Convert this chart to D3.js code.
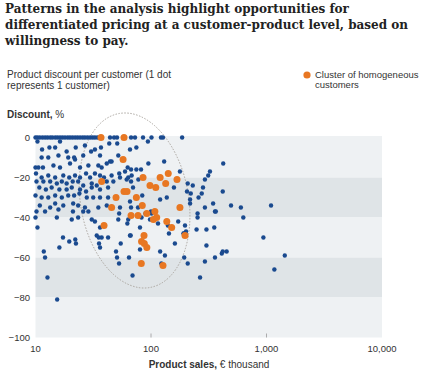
<!DOCTYPE html>
<html>
<head>
<meta charset="utf-8">
<script src="https://cdn.jsdelivr.net/npm/d3@7"></script>
<style>
  body { margin: 0; background: #fff; }
  text { font-family: "Liberation Sans", Arial, sans-serif; fill: #333; }
  .title { font-family: "DejaVu Serif", Georgia, serif; font-weight: bold; fill: #222; }
</style>
</head>
<body>
<div id="chart"></div>
<script>
// title lines
var titleLines = [
  "Patterns in the analysis highlight opportunities for",
  "differentiated pricing at a customer-product level, based on",
  "willingness to pay."
];
var subtitleLines = ["Product discount per customer (1 dot", "represents 1 customer)"];
var legendLines = ["Cluster of homogeneous", "customers"];

var xTicks = [10, 100, 1000, 10000];
var yTicks = [0, -20, -40, -60, -80, -100];
var bands = [[0, -20], [-20, -40], [-40, -60], [-60, -80], [-80, -100]];

// blue dots: [product sales (€ thousand), discount %]
var customers = [
  // dense row at 0 %
  [10, 0], [10.4, 0], [10.9, 0], [11.5, 0], [12.1, 0], [12.7, 0], [13.4, 0], [14, 0], [14.8, 0],
  [15.5, 0], [16.3, 0], [17.1, 0], [18, 0], [19, 0], [19.9, 0], [20.9, 0], [22, 0], [23.1, 0],
  [24.3, 0], [25.6, 0], [26.8, 0], [28.2, 0], [29.7, 0], [31.2, 0], [32.7, 0], [34.4, 0],
  [44.2, 0], [47.9, 0], [50.8, 0], [67.2, 0], [72.7, 0], [85.3, 0], [101, 0], [122, 0], [127, 0], [186, 0],
  [94, -2], [10.4, -2], [16.3, -2],
  [11.4, -6], [13.2, -5], [14.8, -5], [18.6, -7], [22.3, -5], [26.8, -4], [32.7, -6], [36.9, -5], [43.5, -3], [51, -3],
  [11.3, -10], [12.9, -10], [15.8, -9], [19.2, -10], [21.6, -10], [25.9, -9], [30.3, -7], [36.2, -9], [44.2, -12], [52.1, -9],
  [10, -15], [10.6, -15], [11.6, -15], [14.3, -14], [16.3, -15], [19.9, -13], [22, -11], [24.3, -15], [28.7, -14],
  [35, -14], [37.4, -15], [41.4, -13], [45.6, -12],
  [10.1, -18], [11.3, -20], [12.9, -19], [14.8, -20], [17.4, -19], [19.6, -20], [22, -19], [24.3, -20], [27.4, -18],
  [29.7, -20], [32.7, -18], [36.2, -19], [39.2, -20], [45.6, -19], [53.1, -18], [59.6, -17],
  [10.2, -22], [11.7, -22], [13.4, -22], [15.3, -23], [16.9, -22], [18.6, -23], [21, -22], [23.4, -22], [25.9, -24],
  [30.7, -23], [33.9, -24], [41.4, -22], [47.2, -22], [53.9, -20], [61.6, -21],
  [10.8, -25], [12.3, -26], [13.8, -25], [16.1, -26], [18.6, -26], [20.6, -25], [24.3, -26], [27.4, -27], [30.7, -25],
  [36.2, -26], [42.5, -25],
  [10, -29], [11.3, -30], [12.9, -30], [14.8, -29], [16.9, -30], [19.2, -29], [21.6, -29], [24, -28], [27.8, -30],
  [31.6, -30], [36.2, -30], [42.5, -30],
  [10.9, -34], [13.4, -35], [14.8, -33], [17.4, -34], [21.2, -33], [23.4, -34], [26.8, -35], [35, -35], [41.4, -34], [53.9, -35],
  [10.2, -37], [12.1, -37], [15.8, -36], [21.1, -37], [25.9, -37], [28.7, -37], [53, -38],
  [10, -40], [10.4, -45], [15.3, -40], [20.6, -41], [23.4, -40], [32.7, -42], [30.7, -41], [36.2, -45], [52.1, -41], [62.4, -43], [63.5, -41],
  [11.8, -57], [12.1, -60], [12.7, -70], [15.4, -81], [16.1, -55], [17.3, -50], [19.6, -52], [22.1, -51], [22.4, -53],
  [33.9, -49], [35.3, -50], [35.5, -53], [36.2, -55], [37.4, -50], [42.5, -50], [49.8, -57], [50.8, -60], [52.9, -63],
  [54.7, -53], [64.5, -60], [66.7, -49], [69.2, -69], [80.3, -56],
  [65.8, -6], [74.7, -5], [94.9, -13], [130, -12], [62.8, -15], [67.2, -16], [68, -19], [74.7, -16], [82, -16],
  [63.5, -20], [77.7, -21], [67.2, -22], [178, -17], [293, -21], [313, -19], [324, -17], [422, -13],
  [158, -25], [208, -23], [230, -24], [205, -27], [221, -28], [275, -28], [282, -25], [258, -30], [218, -31], [218, -33],
  [345, -33], [120, -31], [137, -30], [69.9, -25], [84, -29], [77.2, -35], [293, -35], [358, -37],
  [65.8, -32], [100, -37], [67.2, -35], [98, -41],
  [65.8, -49], [80.3, -45], [82.8, -40], [89.6, -38], [101, -38], [115, -43], [140, -44], [143, -48], [161, -53],
  [172, -42], [197, -44], [201, -47], [191, -48], [253, -38], [253, -40], [248, -46], [302, -46], [353, -45], [364, -37],
  [302, -54], [410, -58], [358, -60], [293, -62], [194, -60], [208, -63], [132, -59], [120, -57], [123, -63], [266, -70],
  [193, -48], [418, -27], [493, -34], [600, -35], [630, -40], [1095, -34], [940, -50],
  [418, -57], [452, -57], [1440, -59], [1170, -66]
];

// orange dots: cluster of homogeneous customers
var cluster = [
  [36.9, 0], [58.4, 0], [57.3, -11], [37.4, -22], [85.3, -20], [120, -20], [141, -18], [168, -21], [134, -23],
  [98, -24], [110, -25], [49.8, -30], [58.4, -27], [62, -27], [74.7, -30], [84, -34], [45.6, -35], [178, -35],
  [67.2, -39], [77.2, -39], [91.9, -38], [108, -37], [112, -40], [105, -41], [137, -42], [151, -45], [39.2, -44],
  [197, -49], [87, -49], [82.8, -52], [87.5, -53], [92, -55], [82.4, -63], [127, -64]
];

// dashed ring round the cluster: top and bottom ends of its long axis
var ringTop = [53, 12];
var ringBottom = [98, -75];

var W = 432, H = 372;
var svg = d3.select("#chart").append("svg")
    .attr("width", W)
    .attr("height", H);

var x = d3.scaleLog().domain([10, 10000]).range([35.5, 382]);
var y = d3.scaleLinear().domain([-100, 0]).range([337.5, 137.5]);

// title
svg.append("text")
    .attr("class", "title")
    .attr("x", 5)
    .attr("y", 13)
    .style("font-size", "12px")
  .selectAll("tspan")
    .data(titleLines)
    .enter().append("tspan")
    .attr("x", 5)
    .attr("dy", function(d, i) { return i ? 15.8 : 0; })
    .text(function(d) { return d; });

// subtitle
svg.append("text")
    .attr("x", 7)
    .attr("y", 78)
    .style("font-size", "10px")
  .selectAll("tspan")
    .data(subtitleLines)
    .enter().append("tspan")
    .attr("x", 7)
    .attr("dy", function(d, i) { return i ? 11 : 0; })
    .text(function(d) { return d; });

// legend
svg.append("circle")
    .attr("cx", 307)
    .attr("cy", 75)
    .attr("r", 3.6)
    .style("fill", "#e87722");
svg.append("text")
    .attr("x", 315)
    .attr("y", 78)
    .style("font-size", "9.5px")
  .selectAll("tspan")
    .data(legendLines)
    .enter().append("tspan")
    .attr("x", 315)
    .attr("dy", function(d, i) { return i ? 10 : 0; })
    .text(function(d) { return d; });

// y axis title
var yt = svg.append("text")
    .attr("x", 7)
    .attr("y", 118)
    .style("font-size", "10px");
yt.append("tspan").style("font-weight", "bold").text("Discount,");
yt.append("tspan").text(" %");

// background bands
svg.selectAll("rect.band")
    .data(bands)
    .enter().append("rect")
    .attr("class", "band")
    .attr("x", x(10))
    .attr("width", x(10000) - x(10))
    .attr("y", function(d) { return y(d[0]) - (d[0] === 0 ? 1.5 : 0); })
    .attr("height", function(d) { return y(d[1]) - y(d[0]) + (d[0] === 0 ? 1.5 : 0); })
    .style("fill", function(d, i) { return i % 2 ? "#dfe4e7" : "#eef1f3"; });

// small x ticks inside the plot
svg.selectAll("line.xtick")
    .data(xTicks.slice(1, 3))
    .enter().append("line")
    .attr("class", "xtick")
    .attr("x1", function(d) { return x(d); })
    .attr("x2", function(d) { return x(d); })
    .attr("y1", y(-100) - 4)
    .attr("y2", y(-100))
    .style("stroke", "#999")
    .style("stroke-width", 0.8);

// tick labels
svg.selectAll("text.xlab")
    .data(xTicks)
    .enter().append("text")
    .attr("class", "xlab")
    .attr("x", function(d) { return x(d); })
    .attr("y", 352)
    .attr("text-anchor", "middle")
    .style("font-size", "9.5px")
    .text(d3.format(","));

svg.selectAll("text.ylab")
    .data(yTicks)
    .enter().append("text")
    .attr("class", "ylab")
    .attr("x", 30)
    .attr("y", function(d) { return y(d) + 3.5; })
    .attr("text-anchor", "end")
    .style("font-size", "9.5px")
    .text(d3.format("d"));

// x axis title
var xt = svg.append("text")
    .attr("x", 209)
    .attr("y", 368)
    .attr("text-anchor", "middle")
    .style("font-size", "10px");
xt.append("tspan").style("font-weight", "bold").text("Product sales,");
xt.append("tspan").text(" € thousand");

// dashed ring
var p1 = [x(ringTop[0]), y(ringTop[1])], p2 = [x(ringBottom[0]), y(ringBottom[1])];
var cx = (p1[0] + p2[0]) / 2, cy = (p1[1] + p2[1]) / 2;
var ry = Math.hypot(p2[0] - p1[0], p2[1] - p1[1]) / 2;
var ang = Math.atan2(p2[0] - p1[0], p2[1] - p1[1]) * 180 / Math.PI;
svg.append("ellipse")
    .attr("transform", "translate(" + cx + "," + cy + ") rotate(" + (-ang) + ")")
    .attr("rx", 54)
    .attr("ry", ry)
    .style("fill", "none")
    .style("stroke", "#a8a29c")
    .style("stroke-width", 0.9)
    .style("stroke-dasharray", "1.5,1.5");

// dots
svg.selectAll("circle.cust")
    .data(customers)
    .enter().append("circle")
    .attr("class", "cust")
    .attr("cx", function(d) { return x(d[0]); })
    .attr("cy", function(d) { return y(d[1]); })
    .attr("r", 2.2)
    .style("fill", "#1a4a8f");

svg.selectAll("circle.clus")
    .data(cluster)
    .enter().append("circle")
    .attr("class", "clus")
    .attr("cx", function(d) { return x(d[0]); })
    .attr("cy", function(d) { return y(d[1]); })
    .attr("r", 3.5)
    .style("fill", "#e87722");
</script>
</body>
</html>
